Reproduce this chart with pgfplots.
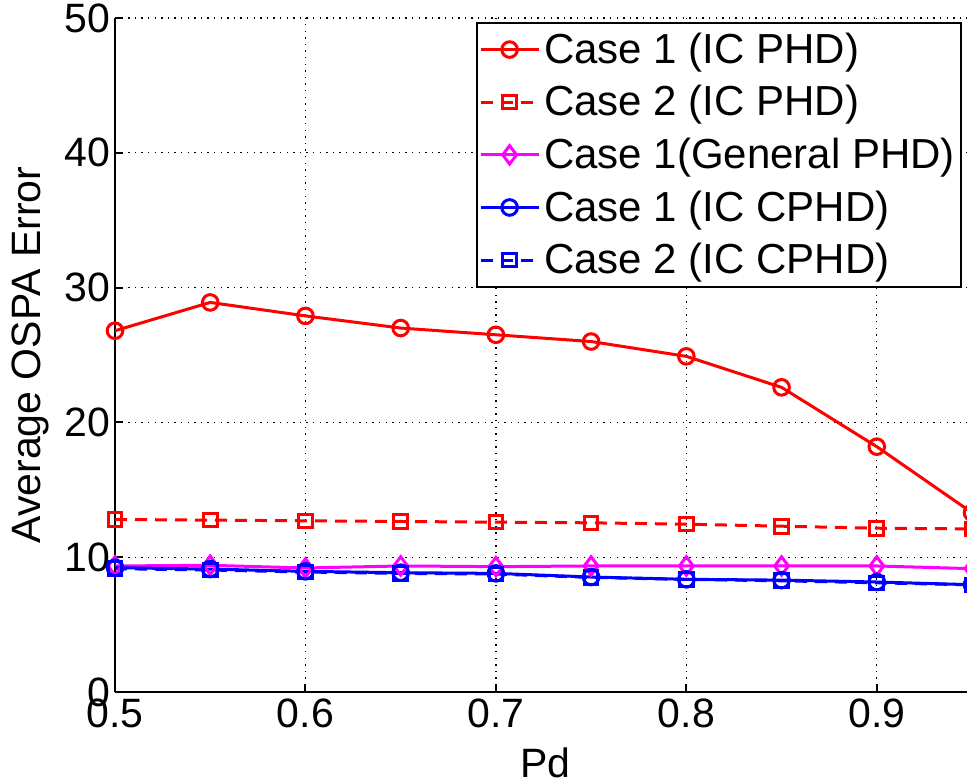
\documentclass[border=0pt]{standalone}
\usepackage{pgfplots}
\pgfplotsset{compat=1.18}
\usepackage{fontspec}
\setmainfont{Liberation Sans}

\definecolor{mred}{RGB}{255,0,0}
\definecolor{mmag}{RGB}{255,0,255}
\definecolor{mblue}{RGB}{0,0,255}

\begin{document}
\begin{tikzpicture}[x=1pt,y=1pt]
\begin{axis}[
  at={(57.5pt,45pt)}, anchor=origin,
  scale only axis, width=428.5pt, height=337pt,
  xmin=0.5, xmax=0.95, ymin=0, ymax=50,
  xtick={0.5,0.6,0.7,0.8,0.9}, ytick={0,10,20,30,40,50},
  xticklabels={0.5,0.6,0.7,0.8,0.9},
  axis x line*=bottom, axis y line*=left,
  axis line style={line width=1.2pt, -},
  tick style={line width=1pt, black}, major tick length=4pt,
  tick align=inside,
  grid=major, grid style={black, dash pattern=on 0.7pt off 2.6pt, line width=0.7pt},
  font=\fontsize{20.5}{24}\selectfont,
  /pgf/number format/assume math mode=true,
  /pgf/number format/fixed,
  xticklabel style={yshift=0pt},
  yticklabel style={xshift=1pt},
  xlabel={Pd}, ylabel={Average OSPA Error},
  xlabel style={at={(axis description cs:0.502,-0.105)}, anchor=center},
  ylabel style={at={(axis description cs:-0.099,0.5)}, anchor=center},
  legend style={at={(axis description cs:0.988,0.994)}, anchor=north east,
    draw=black, line width=0.8pt, fill=white, inner xsep=1pt, inner ysep=3pt,
    row sep=5.6pt, cells={anchor=west},
    font=\fontsize{21}{25}\selectfont},
  legend image code/.code={
    \draw[#1] (1pt,0pt) -- (30pt,0pt);
    \draw[#1,solid] plot coordinates {(15.5pt,0pt)};
  },
  every axis plot/.append style={line width=1.5pt, mark size=3.9pt},
]
\addplot[color=mred, mark=o] coordinates {
  (0.50,26.8) (0.55,28.9) (0.60,27.9) (0.65,27.0) (0.70,26.5)
  (0.75,26.0) (0.80,24.9) (0.85,22.6) (0.90,18.2) (0.95,13.3)};
\addlegendentry{Case 1 (IC PHD)}
\addplot[color=mred, dash pattern=on 6pt off 4pt, mark=square, mark size=3.4pt, mark options={solid}] coordinates {
  (0.50,12.8) (0.55,12.75) (0.60,12.7) (0.65,12.65) (0.70,12.6)
  (0.75,12.55) (0.80,12.45) (0.85,12.3) (0.90,12.15) (0.95,12.1)};
\addlegendentry{Case 2 (IC PHD)}
\addplot[color=mmag, mark=diamond, mark size=4.6pt] coordinates {
  (0.50,9.35) (0.55,9.4) (0.60,9.2) (0.65,9.35) (0.70,9.3)
  (0.75,9.35) (0.80,9.35) (0.85,9.35) (0.90,9.35) (0.95,9.15)};
\addlegendentry{Case 1(General PHD)}
\addplot[color=mblue, mark=o] coordinates {
  (0.50,9.22) (0.55,9.12) (0.60,8.95) (0.65,8.85) (0.70,8.8)
  (0.75,8.53) (0.80,8.36) (0.85,8.3) (0.90,8.16) (0.95,7.96)};
\addlegendentry{Case 1 (IC CPHD)}
\addplot[color=mblue, dash pattern=on 6pt off 4pt, mark=square, mark size=3.4pt, mark options={solid}] coordinates {
  (0.50,9.15) (0.55,9.05) (0.60,8.9) (0.65,8.8) (0.70,8.75)
  (0.75,8.5) (0.80,8.35) (0.85,8.25) (0.90,8.1) (0.95,7.95)};
\addlegendentry{Case 2 (IC CPHD)}
\end{axis}
\pgfresetboundingbox
\path[use as bounding box] (0pt,0pt) rectangle (483.5pt,391pt);
\end{tikzpicture}
\end{document}
